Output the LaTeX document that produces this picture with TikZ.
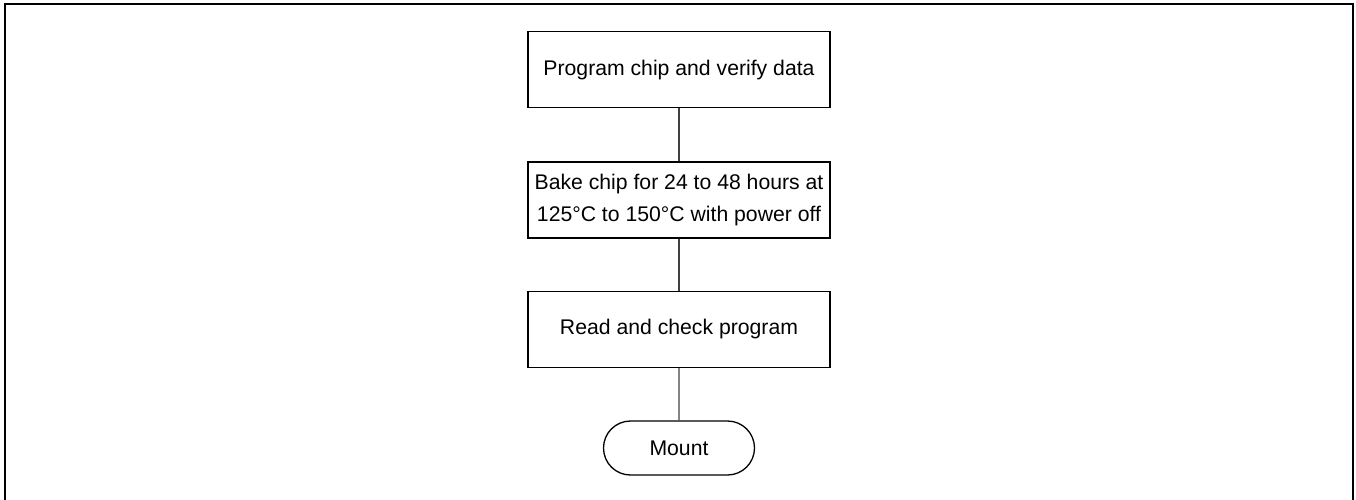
\documentclass[tikz,border=0pt]{standalone}
\usepackage{fontspec}
\setmainfont{Liberation Sans}
\usetikzlibrary{shapes.misc}
\begin{document}
\begin{tikzpicture}[x=1pt,y=-1pt,
  stepbox/.style={draw=black, line width=1.3pt, minimum width=302pt, minimum height=76pt, inner sep=0pt, align=center, font=\fontsize{21.2}{31.6}\selectfont},
  endbox/.style={draw=black, line width=1.3pt, rounded rectangle, minimum width=151pt, minimum height=54pt, inner sep=0pt, font=\fontsize{21.2}{31.6}\selectfont},
  conn/.style={draw=black!75, line width=1.1pt}]
\useasboundingbox (0,0) rectangle (1356,499);
\draw[line width=2pt] (5,505) -- (5,3.5) -- (1352.5,3.5) -- (1352.5,505);
\node[stepbox] (p) at (679,69.7) {Program chip and verify data};
\node[stepbox] (b) at (679,200) {Bake chip for 24 to 48 hours at\\125°C to 150°C with power off};
\node[stepbox] (r) at (679,329.5) {Read and check program};
\node[endbox] (m) at (679,448) {Mount};
\draw[conn] (p) -- (b);
\draw[conn] (b) -- (r);
\draw[conn] (r) -- (m);
\end{tikzpicture}
\end{document}
